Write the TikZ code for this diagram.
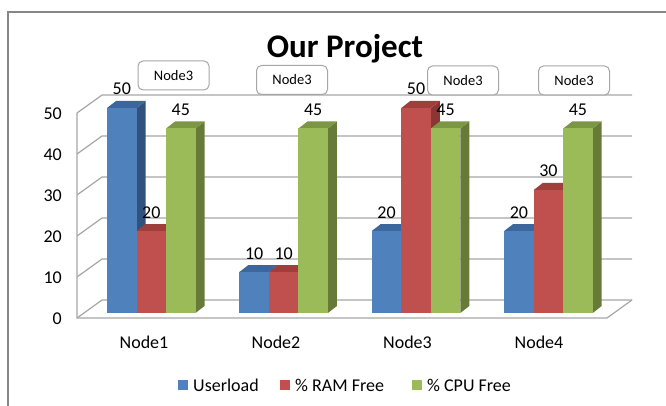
\documentclass[tikz,border=0pt]{standalone}
\usepackage{fontspec}
\setmainfont{Carlito}
\definecolor{bluefront}{HTML}{4F81BD}
\definecolor{blueside}{HTML}{31527D}
\definecolor{bluetop}{HTML}{3D679C}
\definecolor{redfront}{HTML}{C0504D}
\definecolor{redside}{HTML}{8C3634}
\definecolor{redtop}{HTML}{9E3F3C}
\definecolor{greenfront}{HTML}{9BBB59}
\definecolor{greenside}{HTML}{677A38}
\definecolor{greentop}{HTML}{7C9744}
\definecolor{gridgray}{HTML}{A6A6A6}
\definecolor{framegray}{HTML}{868686}
\newcommand\drawbar[3]{%
  \pgfmathsetmacro\ytop{313-4.1*#2}%
  \fill[#3side] (#1+29.5,313) -- (#1+29.5,\ytop) -- (#1+38.5,\ytop-7) -- (#1+38.5,306) -- cycle;
  \fill[#3top] (#1,\ytop) -- (#1+9,\ytop-7) -- (#1+38.5,\ytop-7) -- (#1+29.5,\ytop) -- cycle;
  \fill[#3front] (#1,313) rectangle (#1+29.5,\ytop);
  \node[vallabel] (v-#1-#3) at (#1+14.75,\ytop-13) {#2};
}
\begin{document}
\begin{tikzpicture}[x=1pt,y=-1pt,
  gridline/.style={draw=gridgray,line width=1.2pt},
  vallabel/.style={anchor=base,font=\fontsize{18}{20}\selectfont,inner sep=0pt},
  axislabel/.style={anchor=base east,font=\fontsize{18}{20}\selectfont,inner sep=0pt},
  catlabel/.style={anchor=base,font=\fontsize{18}{20}\selectfont,inner sep=0pt},
  legtext/.style={anchor=base west,font=\fontsize{18}{20}\selectfont,inner sep=0pt},
  tagbox/.style={draw=gridgray,line width=1pt,fill=white,rounded corners=5pt,
    minimum width=71pt,minimum height=29pt,inner sep=0pt,
    font=\fontsize{14.5}{16}\selectfont}]
\useasboundingbox (0,0) rectangle (666,406);
% outer frame
\draw[framegray,line width=1.2pt] (8,406) -- (8,12) -- (666,12);
% title
\node[anchor=base,font=\fontsize{33}{36}\selectfont\bfseries,inner sep=0pt] (title) at (345,58) {Our Project};
% back wall gridlines and left wall
\foreach \k in {0,...,5}{
  \draw[gridline] (77,318-41*\k) -- (102,300-41*\k) -- (632,300-41*\k);
}
\draw[gridline] (77,113) -- (77,318) -- (607,318) -- (632,300);
% axis labels
\foreach \k in {0,...,5}{
  \pgfmathtruncatemacro\lab{10*\k}
  \node[axislabel] (ax\k) at (62,324.5-41*\k) {\lab};
}
% bars
\drawbar{107}{50}{blue}
\drawbar{136.5}{20}{red}
\drawbar{166}{45}{green}
\drawbar{239.4}{10}{blue}
\drawbar{268.9}{10}{red}
\drawbar{298.4}{45}{green}
\drawbar{371.8}{20}{blue}
\drawbar{401.3}{50}{red}
\drawbar{430.8}{45}{green}
\drawbar{504.2}{20}{blue}
\drawbar{533.7}{30}{red}
\drawbar{563.2}{45}{green}
% category labels
\node[catlabel] (c1) at (144,348) {Node1};
\node[catlabel] (c2) at (276,348) {Node2};
\node[catlabel] (c3) at (407.5,348) {Node3};
\node[catlabel] (c4) at (539,348) {Node4};
% tag boxes
\node[tagbox] (t1) at (173.5,75.5) {Node3};
\node[tagbox] (t2) at (292,80) {Node3};
\node[tagbox] (t3) at (463,80.5) {Node3};
\node[tagbox] (t4) at (574,80.5) {Node3};
% legend
\fill[bluefront] (178,380) rectangle (188,390);
\node[legtext] (l1) at (193,391) {Userload};
\fill[redfront] (280,380) rectangle (290,390);
\node[legtext] (l2) at (295,391) {\% RAM Free};
\fill[greenfront] (412,380) rectangle (422,390);
\node[legtext] (l3) at (427,391) {\% CPU Free};
\end{tikzpicture}
\end{document}
